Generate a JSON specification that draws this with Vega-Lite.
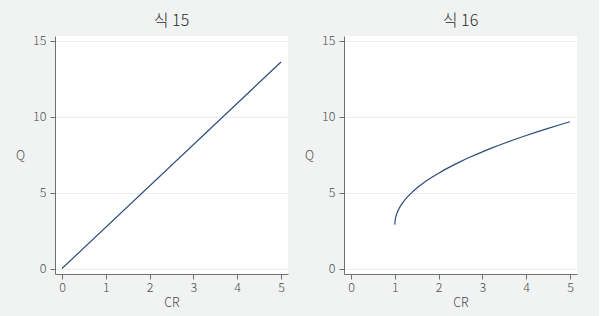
{
  "$schema": "https://vega.github.io/schema/vega-lite/v6.json",
  "background": "#f1f3f3",
  "padding": {"left": 15, "top": 12, "right": 22, "bottom": 12},
  "spacing": 16,
  "config": {
    "font": "Noto Sans CJK KR",
    "view": {"fill": "white", "stroke": null},
    "axis": {
      "domainColor": "#707070",
      "tickColor": "#707070",
      "tickSize": 5,
      "labelColor": "#4d4d4d",
      "labelFontSize": 12.5,
      "labelFontWeight": 300,
      "labelFont": "Noto Sans CJK KR",
      "titleColor": "#4d4d4d",
      "titleFontSize": 12.5,
      "titleFontWeight": 300,
      "titleFont": "Noto Sans CJK KR",
      "gridColor": "#e8eeee",
      "gridWidth": 1
    },
    "title": {"fontSize": 16, "fontWeight": 300, "color": "#2a2a2a", "font": "Noto Sans CJK KR", "offset": 6}
  },
  "datasets": {
    "eq15": [
      {"CR": 0, "Q": 0},
      {"CR": 5, "Q": 13.59}
    ],
    "eq16": [
      {"CR": 1.0, "Q": 2.89},
      {"CR": 1.01, "Q": 3.229},
      {"CR": 1.02, "Q": 3.369},
      {"CR": 1.05, "Q": 3.647},
      {"CR": 1.1, "Q": 3.96},
      {"CR": 1.15, "Q": 4.201},
      {"CR": 1.2, "Q": 4.404},
      {"CR": 1.3, "Q": 4.744},
      {"CR": 1.4, "Q": 5.031},
      {"CR": 1.5, "Q": 5.284},
      {"CR": 1.6, "Q": 5.512},
      {"CR": 1.8, "Q": 5.918},
      {"CR": 2.0, "Q": 6.275},
      {"CR": 2.25, "Q": 6.674},
      {"CR": 2.5, "Q": 7.036},
      {"CR": 2.75, "Q": 7.368},
      {"CR": 3.0, "Q": 7.677},
      {"CR": 3.25, "Q": 7.968},
      {"CR": 3.5, "Q": 8.242},
      {"CR": 3.75, "Q": 8.503},
      {"CR": 4.0, "Q": 8.753},
      {"CR": 4.25, "Q": 8.993},
      {"CR": 4.5, "Q": 9.223},
      {"CR": 4.75, "Q": 9.445},
      {"CR": 5.0, "Q": 9.66}
    ]
  },
  "hconcat": [
    {
      "title": "식 15",
      "width": 233,
      "height": 238,
      "data": {"name": "eq15"},
      "mark": {"type": "line", "color": "#2e4b78", "strokeWidth": 1.2, "clip": true},
      "encoding": {
        "x": {"field": "CR", "type": "quantitative", "scale": {"domain": [-0.16, 5.16], "nice": false, "zero": false},
              "axis": {"values": [0, 1, 2, 3, 4, 5], "grid": false, "title": "CR", "labelPadding": 2, "titlePadding": 3}},
        "y": {"field": "Q", "type": "quantitative", "scale": {"domain": [-0.36, 15.3], "nice": false, "zero": false},
              "axis": {"values": [0, 5, 10, 15], "grid": true, "title": "Q", "titleAngle": 0, "titleAlign": "center", "titleBaseline": "middle", "titleX": -35, "titleY": 119, "labelPadding": 4}}
      }
    },
    {
      "title": "식 16",
      "width": 233,
      "height": 238,
      "data": {"name": "eq16"},
      "mark": {"type": "line", "color": "#2e4b78", "strokeWidth": 1.2, "clip": true, "interpolate": "monotone"},
      "encoding": {
        "x": {"field": "CR", "type": "quantitative", "scale": {"domain": [-0.16, 5.16], "nice": false, "zero": false},
              "axis": {"values": [0, 1, 2, 3, 4, 5], "grid": false, "title": "CR", "labelPadding": 2, "titlePadding": 3}},
        "y": {"field": "Q", "type": "quantitative", "scale": {"domain": [-0.36, 15.3], "nice": false, "zero": false},
              "axis": {"values": [0, 5, 10, 15], "grid": true, "title": "Q", "titleAngle": 0, "titleAlign": "center", "titleBaseline": "middle", "titleX": -35, "titleY": 119, "labelPadding": 4}}
      }
    }
  ]
}
